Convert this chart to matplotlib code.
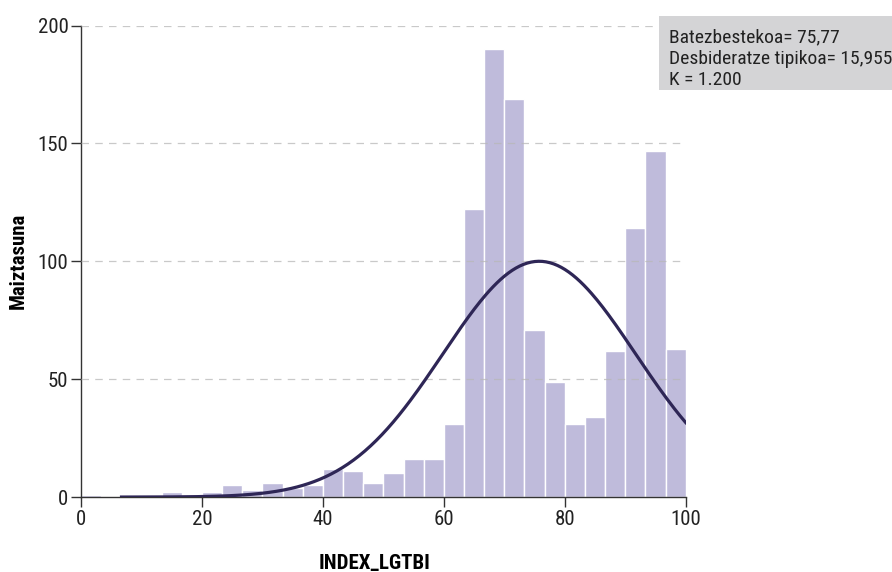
import numpy as np
import matplotlib.pyplot as plt
from matplotlib.patches import Rectangle

plt.rcParams['font.family'] = ['Roboto Condensed', 'DejaVu Sans']

# Dados (contagens por classe, largura 100/30)
bin_edges = np.linspace(0, 100, 31)
counts = [1, 0, 0, 0, 2, 1, 2, 5, 3, 6, 4, 5, 12, 11, 6, 10, 16, 16,
          31, 122, 190, 169, 71, 49, 31, 34, 62, 114, 147, 63]
media = 75.77
desvio = 15.955
n_total = 1200
curva_inicio = 6.7

xticks = [0, 20, 40, 60, 80, 100]
yticks = [0, 50, 100, 150, 200]
legenda = ['Batezbestekoa= 75,77', 'Desbideratze tipikoa= 15,955', 'K = 1.200']

fig = plt.figure(figsize=(8.92, 5.72), dpi=100)
ax = fig.add_axes([0.0908, 0.131, 0.678, 0.8243])

largura = bin_edges[1] - bin_edges[0]
ax.bar(bin_edges[:-1], counts, width=largura, align='edge',
       color='#bfbbdb', edgecolor='white', linewidth=1.0, zorder=2)

# curva normal ajustada
xs = np.linspace(curva_inicio, 100, 300)
ys = n_total * largura / (desvio * np.sqrt(2 * np.pi)) * np.exp(-0.5 * ((xs - media) / desvio) ** 2)
ax.plot(xs, ys, color='#2e2656', linewidth=2.3, zorder=4)

ax.set_xlim(0, 100)
ax.set_ylim(0, 200)
ax.set_xticks(xticks)
ax.set_yticks(yticks)
for v in yticks[1:]:
    ax.axhline(v, color='#b8b8b8', linestyle=(0, (6, 5)), linewidth=0.9,
               alpha=0.75, zorder=3)

for s in ['top', 'right']:
    ax.spines[s].set_visible(False)
for s in ['left', 'bottom']:
    ax.spines[s].set_color('#333333')
    ax.spines[s].set_linewidth(1.0)
ax.tick_params(axis='both', labelsize=15, color='#333333', length=7,
               labelcolor='#222222', width=1.0, pad=2)

ax.set_xlabel('INDEX_LGTBI', fontsize=15, fontweight='bold', va='center')
ax.xaxis.set_label_coords(0.485, -0.14)
ax.set_ylabel('Maiztasuna', fontsize=15, fontweight='bold', va='center')
ax.yaxis.set_label_coords(-0.104, 0.5)

# caixa com estatisticas
fig.add_artist(Rectangle((659 / 892, 1 - 90 / 572), 1 - 659 / 892, 74 / 572,
                         transform=fig.transFigure, facecolor='#d4d4d6',
                         edgecolor='none'))
for i, linha in enumerate(legenda):
    fig.text(669 / 892, 1 - (37 + 21.5 * i) / 572, linha, fontsize=14,
             color='#222222', va='center', ha='left')

fig.savefig('out.png', dpi=100)
